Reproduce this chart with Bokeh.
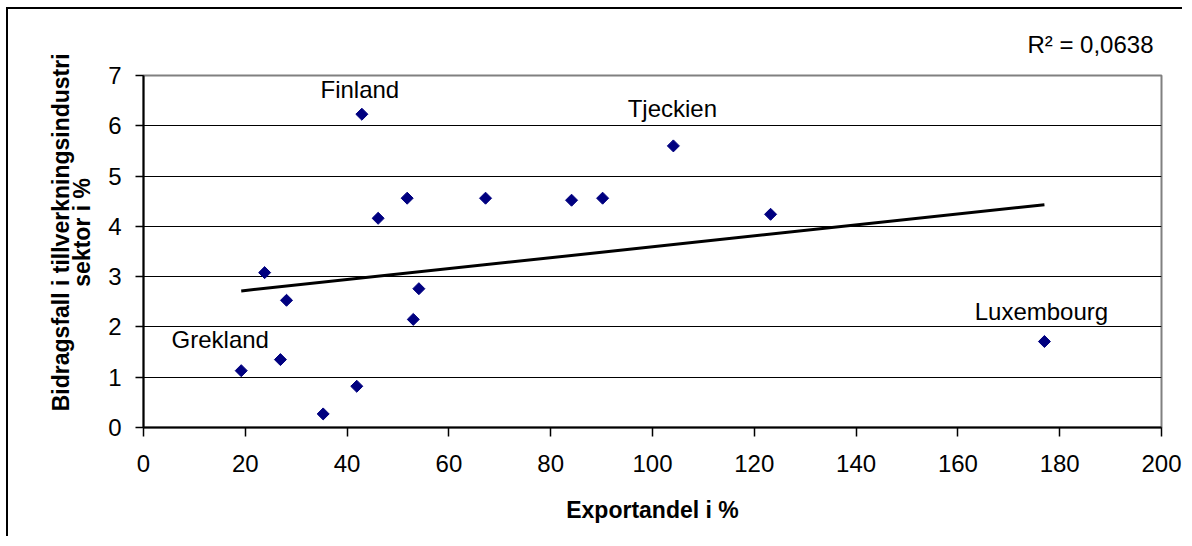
import numpy as np
from bokeh.plotting import figure
from bokeh.models import Range1d, FixedTicker, ColumnDataSource
from bokeh.core.properties import value
from bokeh.embed import file_html
from bokeh.resources import INLINE

# ---- data ----
countries = ["Grekland", "", "", "", "", "", "Finland", "", "", "", "", "", "", "", "Tjeckien", "", "Luxembourg"]
export_share = [19.2, 23.8, 26.9, 28.1, 35.3, 41.9, 42.9, 46.1, 51.8, 53.0, 54.1, 67.2, 84.1, 90.2, 104.1, 123.2, 177.0]
contribution = [1.13, 3.08, 1.35, 2.53, 0.27, 0.82, 6.23, 4.16, 4.56, 2.15, 2.76, 4.56, 4.52, 4.56, 5.60, 4.24, 1.71]
x_ticks = [0, 20, 40, 60, 80, 100, 120, 140, 160, 180, 200]
y_ticks = [0, 1, 2, 3, 4, 5, 6, 7]
r2_text = "R\u00b2 = 0,0638"
x_title = "Exportandel i %"
y_title_lines = ["Bidragsfall i tillverkningsindustri", "sektor i %"]

# label offsets (pixels) for the named points
label_dx = {"Grekland": -21, "Finland": -2, "Tjeckien": -1, "Luxembourg": -3}
label_dy = {"Grekland": -31, "Finland": -25, "Tjeckien": -37, "Luxembourg": -30}

FONT = "Liberation Sans"
FS = "24px"

pad = "\u00a0" * 6
y_title = "\n".join(pad + line for line in y_title_lines)

p = figure(width=1176, height=529, output_backend="svg", toolbar_location=None,
           x_range=Range1d(x_ticks[0], x_ticks[-1]), y_range=Range1d(y_ticks[0], y_ticks[-1]),
           min_border_left=135, min_border_right=23, min_border_top=66, min_border_bottom=111,
           background_fill_color="white", border_fill_color="white")
p.styles = {"margin-left": "6px", "margin-top": "7px",
            "border-left": "2px solid black", "border-top": "2px solid black"}

p.outline_line_color = "#808080"
p.outline_line_width = 2

p.title.text = r2_text
p.title.align = "right"
p.title.text_font = FONT
p.title.text_font_size = FS
p.title.text_font_style = "normal"
p.title.text_color = "black"
p.title.offset = 8
p.title.standoff = 36

p.xgrid.visible = False
p.ygrid.ticker = FixedTicker(ticks=y_ticks[1:-1])
p.ygrid.grid_line_color = "black"
p.ygrid.grid_line_width = 1.2

for ax, ticks in ((p.xaxis, x_ticks), (p.yaxis, y_ticks)):
    ax.ticker = FixedTicker(ticks=ticks)
    ax.axis_line_color = "black"
    ax.axis_line_width = 2
    ax.major_tick_line_color = "black"
    ax.major_tick_line_width = 1.5
    ax.major_tick_in = 0
    ax.minor_tick_line_color = None
    ax.major_label_text_font = FONT
    ax.major_label_text_font_size = FS
    ax.major_label_text_color = "black"
    ax.axis_label_text_font = FONT
    ax.axis_label_text_font_size = "23px"
    ax.axis_label_text_font_style = "bold"
    ax.axis_label_text_color = "black"

p.xaxis.major_tick_out = 9
p.yaxis.major_tick_out = 8
p.xaxis.major_label_standoff = 18
p.yaxis.major_label_standoff = 14
p.xaxis.axis_label = x_title
p.yaxis.axis_label = y_title
p.yaxis.axis_label_text_line_height = 0.82
p.xaxis.axis_label_standoff = 22
p.yaxis.axis_label_standoff = 10

# trend line (least squares)
xs = np.array(export_share)
ys = np.array(contribution)
slope, intercept = np.polyfit(xs, ys, 1)
tx = [xs.min(), xs.max()]
ty = [slope * v + intercept for v in tx]
p.line(tx, ty, line_color="black", line_width=3)

src = ColumnDataSource(dict(x=export_share, y=contribution))
p.scatter("x", "y", source=src, marker="square", angle=np.pi / 4, size=8.5,
          fill_color="#000080", line_color="#000080")

lx, ly, lt, ldx, ldy = [], [], [], [], []
for c, xv, yv in zip(countries, export_share, contribution):
    if c:
        lx.append(xv); ly.append(yv); lt.append(c)
        ldx.append(label_dx[c]); ldy.append(label_dy[c])
lsrc = ColumnDataSource(dict(x=lx, y=ly, t=lt, dx=ldx, dy=ldy))
p.text("x", "y", text="t", source=lsrc, x_offset="dx", y_offset="dy",
       text_align="center", text_baseline="alphabetic",
       text_font=value(FONT), text_font_size=FS, text_color="black")

open("out.html", "w").write(file_html(p, INLINE))
